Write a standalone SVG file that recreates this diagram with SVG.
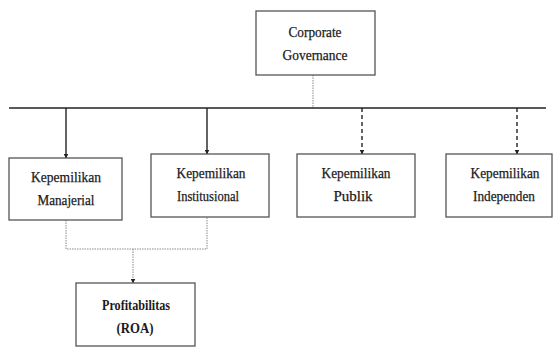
<svg xmlns="http://www.w3.org/2000/svg" width="556" height="348" viewBox="0 0 556 348">
<defs>
<marker id="ah" viewBox="0 0 10 10" refX="9" refY="5" markerWidth="5" markerHeight="5" orient="auto" markerUnits="userSpaceOnUse">
<path d="M0,0 L10,5 L0,10 z" fill="#222"/>
</marker>
<style>
.box{fill:#fff;stroke:#555;stroke-width:1.3}
.t{font-family:"Liberation Serif","Times New Roman",serif;font-size:15px;fill:#1a1a1a;stroke:#1a1a1a;stroke-width:0.25;text-anchor:middle}
.b{font-weight:bold;stroke-width:0}
.solid{stroke:#222;stroke-width:1.4;fill:none}
.dash{stroke:#222;stroke-width:1.4;fill:none;stroke-dasharray:4,3}
.dot{stroke:#888;stroke-width:1;fill:none;stroke-dasharray:1.5,1}
</style>
</defs>
<rect width="556" height="348" fill="#fff"/>
<g id="connectors">
<line class="dot" x1="313" y1="75" x2="313" y2="108"/>
<line class="solid" x1="9" y1="108" x2="546" y2="108" stroke="#444"/>
<line class="solid" x1="66" y1="108" x2="66" y2="158" marker-end="url(#ah)"/>
<line class="solid" x1="207" y1="108" x2="207" y2="154" marker-end="url(#ah)"/>
<line class="dash" x1="362" y1="108" x2="362" y2="154" marker-end="url(#ah)"/>
<line class="dash" x1="517" y1="108" x2="517" y2="154" marker-end="url(#ah)"/>
<polyline class="dot" points="66,220 66,249 207,249 207,217"/>
<line class="dot" x1="133" y1="249" x2="133" y2="283" marker-end="url(#ah)"/>
</g>
<g id="corporate-governance">
<rect class="box" x="256" y="11" width="119" height="64"/>
<text class="t" x="315" y="37" textLength="53" lengthAdjust="spacingAndGlyphs">Corporate</text>
<text class="t" x="315" y="60" textLength="65" lengthAdjust="spacingAndGlyphs">Governance</text>
</g>
<g id="manajerial">
<rect class="box" x="9" y="158" width="113" height="62"/>
<text class="t" x="66" y="182" textLength="70" lengthAdjust="spacingAndGlyphs">Kepemilikan</text>
<text class="t" x="66" y="205" textLength="57" lengthAdjust="spacingAndGlyphs">Manajerial</text>
</g>
<g id="institusional">
<rect class="box" x="151" y="154" width="118" height="63"/>
<text class="t" x="211" y="178" textLength="69" lengthAdjust="spacingAndGlyphs">Kepemilikan</text>
<text class="t" x="208" y="201" textLength="62" lengthAdjust="spacingAndGlyphs">Institusional</text>
</g>
<g id="publik">
<rect class="box" x="297" y="154" width="118" height="63"/>
<text class="t" x="356" y="178" textLength="69" lengthAdjust="spacingAndGlyphs">Kepemilikan</text>
<text class="t" x="353" y="201">Publik</text>
</g>
<g id="independen">
<rect class="box" x="446" y="154" width="106" height="63"/>
<text class="t" x="505" y="178" textLength="69" lengthAdjust="spacingAndGlyphs">Kepemilikan</text>
<text class="t" x="504" y="201" textLength="62" lengthAdjust="spacingAndGlyphs">Independen</text>
</g>
<g id="roa">
<rect class="box" x="76" y="283" width="119" height="63" stroke-width="1.6"/>
<text class="t b" x="136" y="310" textLength="68" lengthAdjust="spacingAndGlyphs">Profitabilitas</text>
<text class="t b" x="135" y="333" textLength="37" lengthAdjust="spacingAndGlyphs">(ROA)</text>
</g>
</svg>
